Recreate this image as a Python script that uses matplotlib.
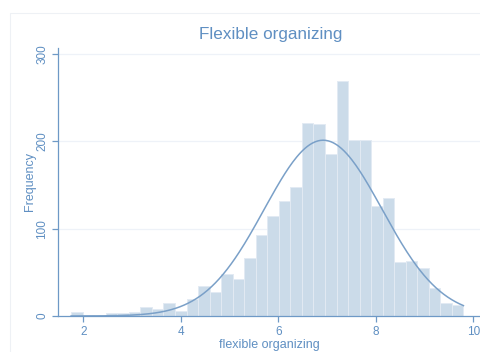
import numpy as np
import matplotlib.pyplot as plt
from matplotlib.patches import Rectangle

plt.rcParams['font.family'] = ['Liberation Sans', 'DejaVu Sans']

# histogram of flexible organizing scores (34 bins)
bin_start = 1.75
bin_width = 0.2367
counts = [5, 1, 0, 3, 3, 5, 10, 8, 15, 6, 20, 34, 27, 48, 42, 66, 93, 114,
          132, 148, 221, 220, 185, 269, 202, 201, 126, 135, 62, 63, 55, 32, 15, 13]

# fitted normal density parameters
mean_score = 6.92
sd_score = 1.21

xticks = [2, 4, 6, 8, 10]
yticks = [0, 100, 200, 300]

blue = '#5f8fc2'
axis_col = '#6e99c6'
bar_col = '#cbdbe9'
curve_col = '#7aa0c8'

counts = np.array(counts)
edges = bin_start + bin_width * np.arange(len(counts) + 1)
n_obs = counts.sum()

fig = plt.figure(figsize=(4.81, 3.52), dpi=100)
fig.patch.set_facecolor('white')

# faint outer frame of the graph region
fig.patches.append(Rectangle((10 / 481, -0.1), 1.0, 0.1 + 339 / 352, transform=fig.transFigure,
                             fill=False, edgecolor='#eef1f5', linewidth=0.8))

ax = fig.add_axes([58 / 481, 36 / 352, 423 / 481, 268.3 / 352])
ax.set_facecolor('white')

ax.bar(edges[:-1], counts, width=bin_width, align='edge', color=bar_col,
       edgecolor='#e2eaf3', linewidth=0.7, zorder=2)

xs = np.linspace(edges[0], edges[-1], 300)
dens = n_obs * bin_width / (sd_score * np.sqrt(2 * np.pi)) * np.exp(-0.5 * ((xs - mean_score) / sd_score) ** 2)
ax.plot(xs, dens, color=curve_col, linewidth=1.1, zorder=3)

ax.set_xlim(1.481, 10.158)
ax.set_ylim(0, 307.2)
ax.set_xticks(xticks)
ax.set_yticks(yticks)
for y in yticks[1:]:
    ax.axhline(y, color='#eef2f8', linewidth=0.9, zorder=1)

for side in ['top', 'right']:
    ax.spines[side].set_visible(False)
for side in ['left', 'bottom']:
    ax.spines[side].set_color(axis_col)
    ax.spines[side].set_linewidth(0.9)

ax.tick_params(axis='both', colors=axis_col, labelcolor=blue, length=4, width=0.9, labelsize=8.5)
ax.tick_params(axis='x', pad=3)
ax.tick_params(axis='y', pad=3)
for lab in ax.get_yticklabels():
    lab.set_rotation(90)
    lab.set_va('center')

ax.set_xlabel('flexible organizing', color=blue, fontsize=9, labelpad=1)
ax.set_ylabel('Frequency', color=blue, fontsize=9, labelpad=0.5)
fig.text(271 / 481, 1 - 35 / 352, 'Flexible organizing', color=blue, fontsize=12.3,
         ha='center', va='center')

fig.savefig('out.png', dpi=100, facecolor='white')
